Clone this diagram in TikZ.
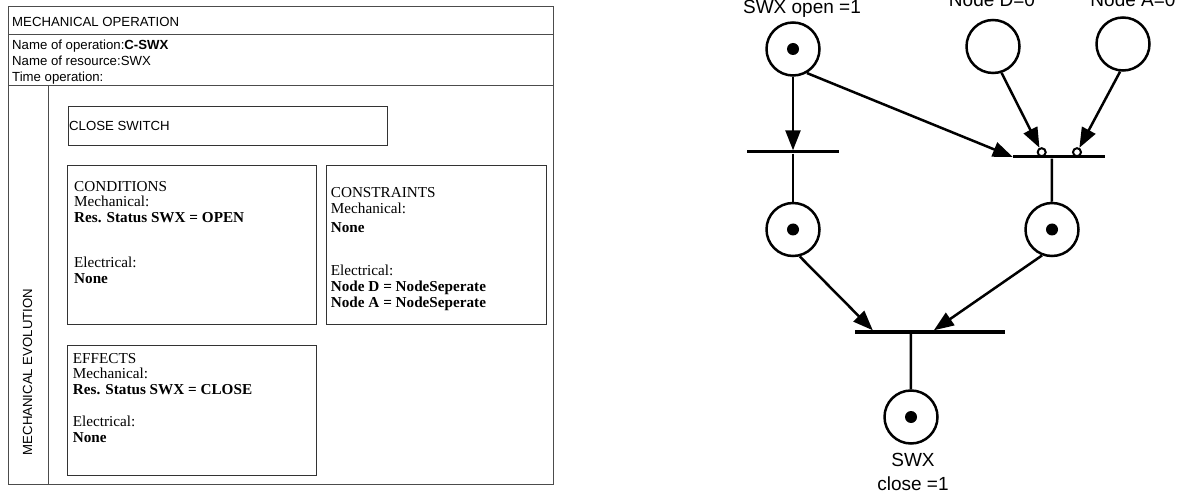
\documentclass[tikz,border=0pt]{standalone}
\usepackage{fontspec}
\setmainfont{Liberation Serif}
\setsansfont{Liberation Sans}
\usetikzlibrary{arrows.meta}
\begin{document}
\begin{tikzpicture}[x=1pt,y=-1pt,
  frame/.style={draw=black!70, line width=1pt},
  boxst/.style={draw=black!80, line width=1pt, rectangle, inner sep=0pt},
  sans/.style={font=\sffamily\fontsize{13.2}{16}\selectfont, inner sep=0pt, anchor=base west},
  serif/.style={font=\fontsize{15.2}{16}\selectfont, inner sep=0pt, anchor=base west},
  lbl/.style={font=\sffamily\fontsize{19}{24}\selectfont, inner sep=0pt, anchor=base},
  place/.style={circle, draw, line width=2.5pt, minimum size=53pt, inner sep=0pt},
  marked/.style={path picture={\fill (path picture bounding box.center) circle (6pt);}},
  trans/.style={rectangle, fill=black, draw=none, minimum height=3pt, inner sep=0pt},
  arc/.style={line width=2.5pt, -{Triangle[length=20pt,width=15pt]}},
  plainarc/.style={line width=2.5pt},
  inhib/.style={circle, draw, line width=2pt, minimum size=8pt, inner sep=0pt, fill=white}
]
\useasboundingbox (0,0) rectangle (1186,494);

% ---------- left: operation sheet ----------
\draw[frame] (8,7) rectangle (553,484.3);
\draw[frame] (8,35) -- (553,35);
\draw[frame] (8,86) -- (553,86);
\draw[frame] (48.3,86) -- (48.3,484.3);

\node[sans] (title) at (12,26.5) {MECHANICAL OPERATION};
\node[sans] (nop) at (12,49.5) {Name of operation:\textbf{C-SWX}};
\node[sans] (nres) at (12,65.5) {Name of resource:SWX};
\node[sans] (tim) at (12,81.5) {Time operation:};
\node[font=\sffamily\fontsize{13.2}{16}\selectfont, rotate=90, inner sep=0pt] (mev) at (27.5,372) {MECHANICAL EVOLUTION};

\node[boxst, minimum width=319pt, minimum height=39pt] (close) at (227.5,126.5) {};
\node[sans] (closet) at (69,130.5) {CLOSE SWITCH};

\node[boxst, minimum width=248.3pt, minimum height=159.3pt] (cond) at (191.85,245.35) {};
\node[serif] (c1) at (74,191.2) {CONDITIONS};
\node[serif] (c2) at (74,206.8) {Mechanical:};
\node[serif] (c3) at (74,222.8) {\textbf{Res. Status SWX = OPEN}};
\node[serif] (c4) at (74,267.8) {Electrical:};
\node[serif] (c5) at (74,283.8) {\textbf{None}};

\node[boxst, minimum width=220pt, minimum height=159.3pt] (cons) at (436,245.35) {};
\node[serif] (k1) at (330.7,197.8) {CONSTRAINTS};
\node[serif] (k2) at (330.7,213.8) {Mechanical:};
\node[serif] (k3) at (330.7,232.5) {\textbf{None}};
\node[serif] (k4) at (330.7,275.5) {Electrical:};
\node[serif] (k5) at (330.7,291.5) {\textbf{Node D = NodeSeperate}};
\node[serif] (k6) at (330.7,307.5) {\textbf{Node A = NodeSeperate}};

\node[boxst, minimum width=248.3pt, minimum height=130pt] (eff) at (191.85,410) {};
\node[serif] (e1) at (72.7,363.8) {EFFECTS};
\node[serif] (e2) at (72.7,378.8) {Mechanical:};
\node[serif] (e3) at (72.7,394.5) {\textbf{Res. Status SWX = CLOSE}};
\node[serif] (e4) at (72.7,426.2) {Electrical:};
\node[serif] (e5) at (72.7,442.8) {\textbf{None}};

% ---------- right: Petri net ----------
\node[place, marked] (P1) at (793,49) {};
\node[place] (PD) at (993,46.5) {};
\node[place] (PA) at (1123,44) {};
\node[lbl] (lP1) at (802,14) {SWX open =1};
\node[lbl] (lPD) at (992,6.7) {Node D=0};
\node[lbl] (lPA) at (1133,6.7) {Node A=0};

\node[trans, minimum width=92pt] (T1) at (793,152) {};
\node[trans, minimum width=92pt] (T2) at (1059,157) {};
\node[place, marked] (P2) at (793,229.5) {};
\node[place, marked] (P3) at (1052,229.5) {};
\node[trans, minimum width=150pt] (T3) at (930,332) {};
\node[place, marked] (P4) at (911,417) {};
\node[lbl] (lP4a) at (913,466.7) {SWX};
\node[lbl] (lP4b) at (913,490.5) {close =1};

\node[inhib] (iD) at (1041.7,152.2) {};
\node[inhib] (iA) at (1077,152.2) {};

\draw[arc] (P1) -- (T1);
\draw[plainarc] (T1) -- (P2);
\draw[arc] (P1.-60) -- (T2.west);
\draw[arc] (PD.-72) -- (iD);
\draw[arc] (PA.-96) -- (iA);
\draw[plainarc] ([xshift=39pt]T2.south west) -- (P3);
\draw[arc] (P2.-76) -- ([xshift=18pt]T3.north west);
\draw[arc] (P3.-111) -- ([xshift=79pt]T3.north west);
\draw[plainarc] ([xshift=56pt]T3.south west) -- (P4);
\end{tikzpicture}
\end{document}
